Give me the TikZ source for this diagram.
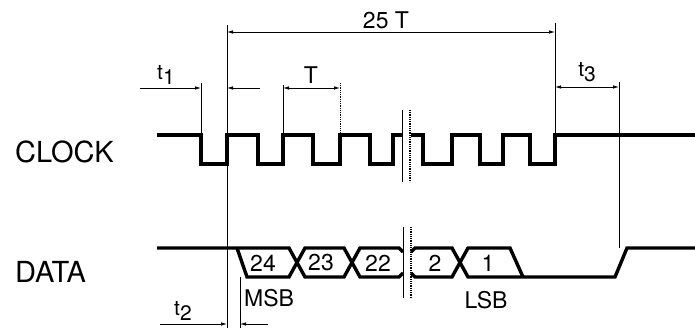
\documentclass[tikz,border=0pt]{standalone}
\usepackage{fontspec}
\setmainfont{TeX Gyre Heros}
\usetikzlibrary{arrows.meta}

\begin{document}
\begin{tikzpicture}[x=1pt, y=-1pt,
    signal/.style={line width=3.4pt, line join=miter},
    guide/.style={line width=0.8pt},
    dim/.style={line width=0.8pt, {Latex[length=6pt,width=3.5pt]}-{Latex[length=6pt,width=3.5pt]}},
    lead/.style={line width=0.8pt, -{Latex[length=6pt,width=3.5pt]}},
    lbl/.style={font=\fontsize{29}{30}\selectfont, inner sep=0pt},
    num/.style={font=\fontsize{23}{24}\selectfont, inner sep=0pt},
    tlbl/.style={font=\fontsize{21}{24}\selectfont, inner sep=0pt},
]
\useasboundingbox (0,0) rectangle (695,328);

% Reference positions
\coordinate (xFall) at (201,0);
\coordinate (xStart) at (227,0);
\coordinate (xT1) at (283,0);
\coordinate (xT2) at (340,0);
\coordinate (xStop) at (555,0);
\coordinate (xEnd) at (619,0);
\coordinate (xMsb) at (240,0);

% Signal names
\node[lbl, anchor=west] (clk) at (15,152) {CLOCK};
\node[lbl, anchor=west] (dat) at (15,272) {DATA};

% Clock line
\draw[signal] (157,135) -| (201,164) -| (227,135) -| (258,164) -| (283,135)
    -| (313,164) -| (340,135) -| (370,164) -| (393,135) -- (402,135);
\draw[signal] (411,135) -| (423,164) -| (452,135) -| (480,164) -| (503,135)
    -| (530,164) -| (555,135) -- (695,135);

% Data line
\draw[signal] (157,248) -- (289,248) -- (305,277) -- (344,277) -- (360,248) -- (399,248) -- (403,252);
\draw[signal] (237,248) -- (247,277) -- (289,277) -- (305,248) -- (344,248) -- (360,277) -- (399,277) -- (403,273);
\draw[signal] (411,252) -- (415,248) -- (452,248) -- (468,277) -- (615,277) -- (627,248) -- (695,248);
\draw[signal] (411,273) -- (415,277) -- (452,277) -- (468,248) -- (510,248) -- (523,277);

\node[num] (b24) at (263,263) {24};
\node[num] (b23) at (321,263) {23};
\node[num] (b22) at (378,263) {22};
\node[num] (b2) at (435,263) {2};
\node[num] (b1) at (488,263) {1};
\node[num, anchor=west] (msb) at (244,298) {MSB};
\node[num] (lsb) at (486,300) {LSB};

% Break marks
\draw[guide] (402,110) -- (402,182);
\draw[guide, densely dotted, line width=1.2pt] (410,110) -- (410,182);
\draw[guide] (403,227) -- (403,298);
\draw[guide, densely dotted, line width=1.2pt] (411,227) -- (411,298);

% Extension lines
\draw[guide] (xFall |- 0,83) -- (xFall |- 0,135);
\draw[guide] (xStart |- 0,25) -- (xStart |- 0,328);
\draw[guide] (xT1 |- 0,85) -- (xT1 |- 0,135);
\draw[guide, densely dotted] (xT2 |- 0,83) -- (xT2 |- 0,135);
\draw[guide] (xStop |- 0,23) -- (xStop |- 0,135);
\draw[guide] (xEnd |- 0,82) -- (xEnd |- 0,248);
\draw[guide] (xMsb |- 0,277) -- (xMsb |- 0,328);

% Dimensions
\draw[dim] (xStart |- 0,32) -- (xStop |- 0,32);
\node[num] (span) at (386,20) {25 T};
\draw[lead] (140,88) -- (xFall |- 0,88);
\draw[lead] (260,88) -- (xStart |- 0,88);
\node[tlbl] (t1) at (166,75) {t\raisebox{-5pt}{1}};
\draw[dim] (xT1 |- 0,88) -- (xT2 |- 0,88);
\node[num] (per) at (311,75) {T};
\draw[dim] (xStop |- 0,87) -- (xEnd |- 0,87);
\node[tlbl] (t3) at (587,72) {t\raisebox{-5pt}{3}};
\draw[lead] (160,324) -- (xStart |- 0,324);
\draw[lead] (268,324) -- (xMsb |- 0,324);
\node[tlbl] (t2) at (183,311) {t\raisebox{-5pt}{2}};

\end{tikzpicture}
\end{document}
